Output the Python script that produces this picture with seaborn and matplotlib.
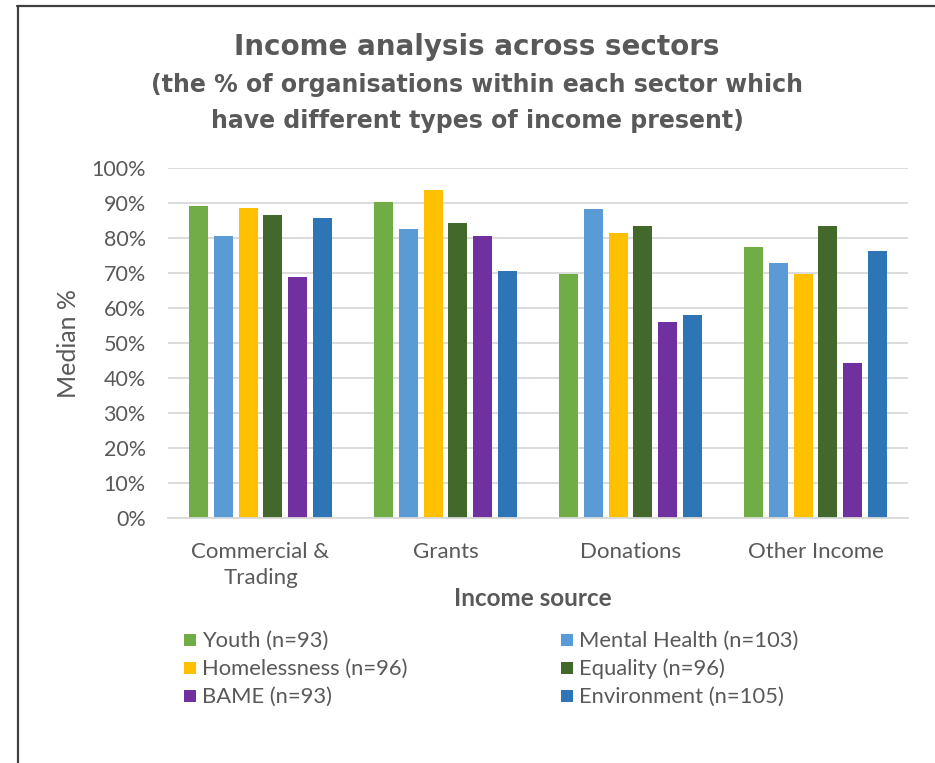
import matplotlib
matplotlib.use("Agg")
import matplotlib.pyplot as plt
from matplotlib.patches import Rectangle
from matplotlib.lines import Line2D
from matplotlib.ticker import PercentFormatter
import seaborn as sns
import pandas as pd

# Income sources (x categories) and sectors (hue)
sources = ["Commercial &\nTrading", "Grants", "Donations", "Other Income"]
sectors = ["Youth (n=93)", "Mental Health (n=103)", "Homelessness (n=96)",
           "Equality (n=96)", "BAME (n=93)", "Environment (n=105)"]

youth = [89.1, 90.2, 69.8, 77.3]
mental_health = [80.5, 82.5, 88.2, 72.8]
homelessness = [88.5, 93.7, 81.3, 69.8]
equality = [86.5, 84.4, 83.3, 83.3]
bame = [68.8, 80.5, 55.9, 44.3]
environment = [85.6, 70.5, 58.0, 76.2]

colors = ["#70AD47", "#5B9BD5", "#FFC000", "#43682B", "#7030A0", "#2E75B6"]

series = [youth, mental_health, homelessness, equality, bame, environment]
rows = []
for sector, vals in zip(sectors, series):
    for src, v in zip(sources, vals):
        rows.append({"source": src, "sector": sector, "value": v / 100})
df = pd.DataFrame(rows)

sns.set_theme(style="white")
plt.rcParams["font.family"] = ["Lato", "DejaVu Sans"]
TXT = "#595959"

W, H = 935, 763
fig = plt.figure(figsize=(W / 100, H / 100), dpi=100)
fig.patch.set_facecolor("white")
ax = fig.add_axes([168 / W, 1 - 518 / H, (908 - 168) / W, (518 - 168) / H])

sns.barplot(data=df, x="source", y="value", hue="sector", order=sources,
            hue_order=sectors, palette=colors, width=0.8, gap=0.22,
            saturation=1, legend=False, ax=ax, edgecolor="none")

ax.set_ylim(0, 1)
ax.set_xlim(-0.5, 3.5)
ax.set_yticks([i / 10 for i in range(11)])
ax.yaxis.set_major_formatter(PercentFormatter(1.0, decimals=0))
ax.grid(axis="y", color="#D9D9D9", linewidth=1.3)
ax.set_axisbelow(True)
for s in ["top", "right", "left"]:
    ax.spines[s].set_visible(False)
ax.spines["bottom"].set_color("#D9D9D9")
ax.spines["bottom"].set_linewidth(1.3)
ax.tick_params(axis="y", length=0, labelsize=15.5, colors=TXT, pad=16)
ax.tick_params(axis="x", length=0, labelsize=16, colors=TXT, pad=17)
for lab in ax.get_xticklabels():
    lab.set_linespacing(1.4)
ax.set_xlabel("")
ax.set_ylabel("Median %", fontsize=18, color=TXT, labelpad=8)

# Titles
tx = 477 / W
fig.text(tx, 1 - 47 / H, "Income analysis across sectors", ha="center",
         va="center", fontsize=20, fontweight="bold", color=TXT,
         family="DejaVu Sans")
fig.text(tx, 1 - 85 / H, "(the % of organisations within each sector which",
         ha="center", va="center", fontsize=17, fontweight="bold", color=TXT,
         family="DejaVu Sans")
fig.text(tx, 1 - 121 / H, "have different types of income present)",
         ha="center", va="center", fontsize=17, fontweight="bold", color=TXT,
         family="DejaVu Sans")

fig.text(533 / W, 1 - 598 / H, "Income source", ha="center", va="center",
         fontsize=17.5, fontweight="bold", color=TXT)

# Legend laid out in two columns below the axis
col_x = [184, 561]
row_y = [641, 669, 697]
for i, (label, c) in enumerate(zip(sectors, colors)):
    r, col = divmod(i, 2)
    x0, y0 = col_x[col], row_y[r]
    fig.patches.append(Rectangle((x0 / W, 1 - (y0 + 5) / H), 12 / W, 12 / H,
                                 transform=fig.transFigure, facecolor=c,
                                 edgecolor="none"))
    fig.text((x0 + 18) / W, 1 - y0 / H, label, ha="left", va="center",
             fontsize=15.8, color=TXT)

# Chart frame (left and top edges)
fig.add_artist(Line2D([17.5 / W, 17.5 / W], [0, 1 - 6 / H], color="#404040",
                      linewidth=1.6, transform=fig.transFigure))
fig.add_artist(Line2D([17 / W, 1], [1 - 6 / H, 1 - 6 / H], color="#404040",
                      linewidth=1.6, transform=fig.transFigure))

fig.savefig("out.png", dpi=100, facecolor="white")
